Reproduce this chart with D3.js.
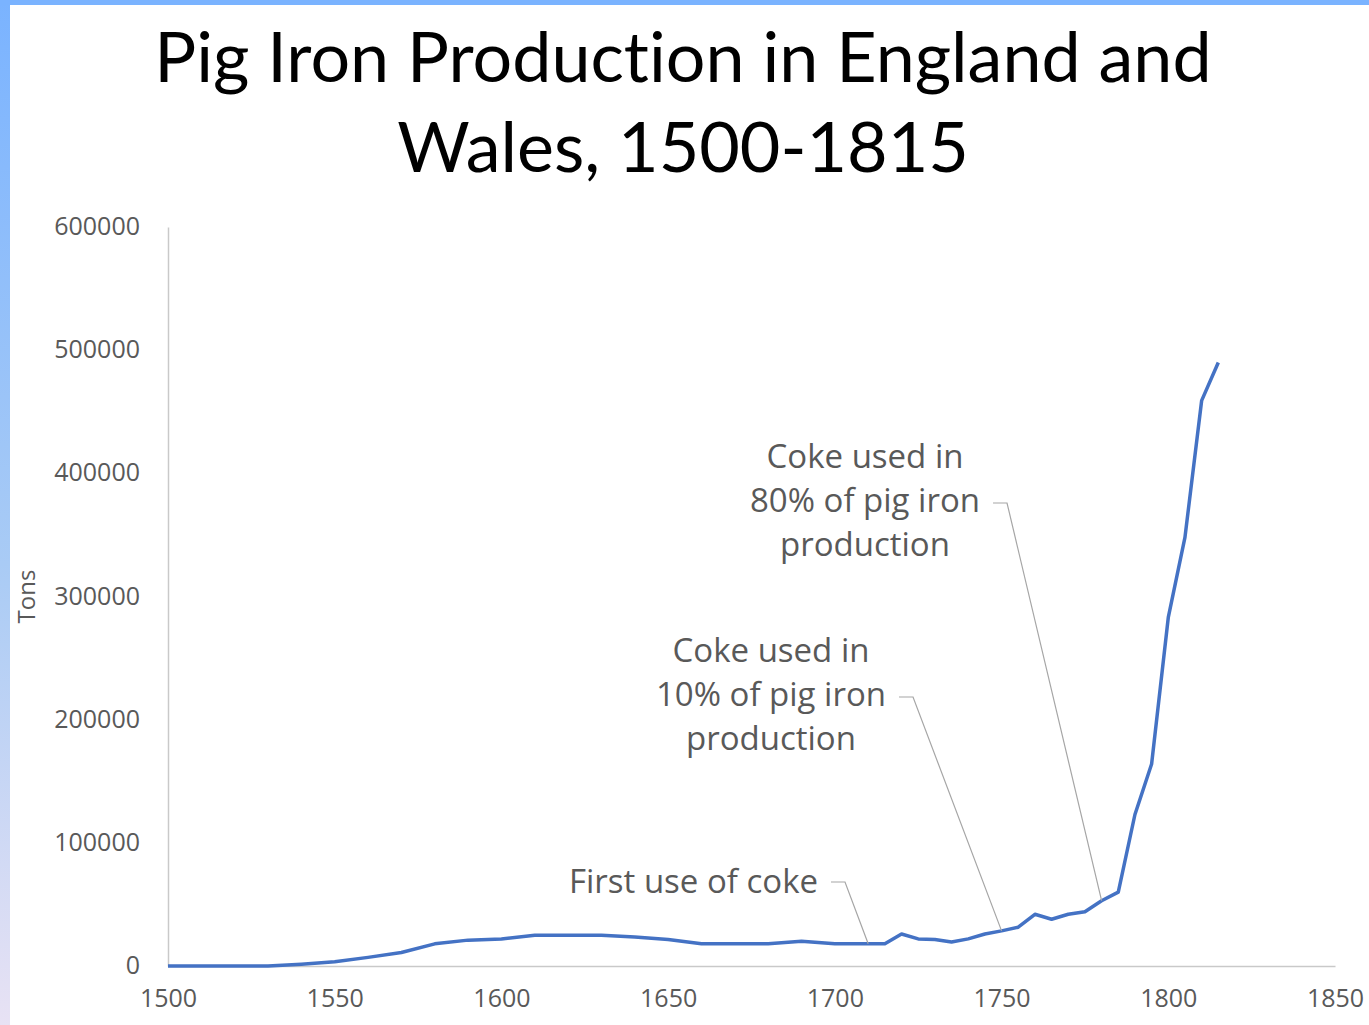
<!DOCTYPE html>
<html>
<head>
<meta charset="utf-8">
<script src="https://cdn.jsdelivr.net/npm/d3@7"></script>
<style>
  body { margin: 0; background: #fff; }
  .tick text { fill: #595959; font-family: "Open Sans", sans-serif; font-size: 25px; }
  .axis path { stroke: #c9c9c9; stroke-width: 1.5; }
  .note { fill: #595959; font-family: "Open Sans", sans-serif; font-size: 33px; }
</style>
</head>
<body>
<div id="chart"></div>
<script>
// data
const years = [1500, 1510, 1520, 1530, 1540, 1550, 1560, 1570, 1580, 1590, 1600, 1610, 1620, 1630, 1640, 1650,
  1660, 1670, 1680, 1690, 1700, 1710, 1715, 1720, 1725, 1730, 1735, 1740, 1745, 1750, 1755, 1760, 1765, 1770,
  1775, 1780, 1785, 1790, 1795, 1800, 1805, 1810, 1815];
const tons = [0, 0, 0, 0, 1500, 3500, 7000, 11000, 18000, 21000, 22000, 25000, 25000, 25000, 23500, 21500,
  18000, 18000, 18000, 20000, 18000, 18000, 18000, 26000, 22000, 21500, 19500, 22000, 26000, 28500, 31500, 42000, 38000, 42000,
  44000, 53000, 60000, 123000, 164000, 283000, 348000, 459000, 490000];
const xTicks = [1500, 1550, 1600, 1650, 1700, 1750, 1800, 1850];
const yTicks = [0, 100000, 200000, 300000, 400000, 500000, 600000];
const noteLines = [
  ["First use of coke"],
  ["Coke used in", "10% of pig iron", "production"],
  ["Coke used in", "80% of pig iron", "production"]
];
const noteYears = [1710, 1750, 1780];

(function () {
  const svg_width = 1369, svg_height = 1025;
  const margin = { top: 227, right: 34, bottom: 59, left: 168 },
    width = svg_width - margin.left - margin.right,
    height = svg_height - margin.top - margin.bottom;

  const root = d3.select("#chart").append("svg")
    .attr("width", svg_width)
    .attr("height", svg_height);

  // blue frame on the left and top
  const grad = root.append("defs").append("linearGradient")
    .attr("id", "side").attr("x1", 0).attr("y1", 0).attr("x2", 0).attr("y2", 1);
  grad.append("stop").attr("offset", "0%").attr("stop-color", "#7ab3ff");
  grad.append("stop").attr("offset", "55%").attr("stop-color", "#a9cbf5");
  grad.append("stop").attr("offset", "100%").attr("stop-color", "#e8e2f4");
  root.append("rect").attr("x", 0).attr("y", 0).attr("width", 10).attr("height", svg_height).attr("fill", "url(#side)");
  root.append("rect").attr("x", 0).attr("y", 0).attr("width", svg_width).attr("height", 5).attr("fill", "#7ab3ff");

  // title
  const title = root.append("text")
    .attr("text-anchor", "middle")
    .attr("font-family", "Lato, sans-serif")
    .attr("font-size", 70)
    .style("font-variant-ligatures", "none")
    .attr("fill", "#000");
  title.append("tspan").attr("x", 683).attr("y", 82).text("Pig Iron Production in England and");
  title.append("tspan").attr("x", 683).attr("y", 172).text("Wales, 1500-1815");

  const svg = root.append("g")
    .attr("transform", "translate(" + margin.left + "," + margin.top + ")");

  const x = d3.scaleLinear().domain([1500, 1850]).range([0, width]);
  const y = d3.scaleLinear().domain([0, 600000]).range([height, 0]);

  svg.append("g")
    .attr("class", "axis")
    .call(d3.axisLeft(y).tickValues(yTicks).tickSize(0).tickPadding(28).tickFormat(d3.format("d")))
    .selectAll("text").attr("dy", "0.3em");

  svg.append("g")
    .attr("class", "axis")
    .attr("transform", "translate(0," + height + ")")
    .call(d3.axisBottom(x).tickValues(xTicks).tickSize(0).tickPadding(23).tickFormat(d3.format("d")));

  // y label
  svg.append("text")
    .attr("transform", "translate(-133," + y(300000) + ") rotate(-90)")
    .attr("text-anchor", "middle")
    .attr("fill", "#595959")
    .attr("font-family", "Open Sans, sans-serif")
    .attr("font-size", 24)
    .text("Tons");

  // series
  const data = years.map((yr, i) => ({ year: yr, value: tons[i] }));
  svg.append("path")
    .datum(data)
    .attr("fill", "none")
    .attr("stroke", "#4472c4")
    .attr("stroke-width", 3.5)
    .attr("stroke-linejoin", "round")
    .attr("d", d3.line().x(d => x(d.year)).y(d => y(d.value)));

  // annotations: label anchor (page px) + leader to the data point
  const notePos = [
    { x: 818, y: 893, anchor: "end", tickY: 882 },
    { x: 771, y: 662, anchor: "middle", tickY: 697 },
    { x: 865, y: 468, anchor: "middle", tickY: 503 }
  ];
  const lineGap = 44;
  const notes = root.append("g");
  noteLines.forEach((lines, i) => {
    const p = notePos[i];
    const t = notes.append("text").attr("class", "note").attr("text-anchor", p.anchor);
    lines.forEach((s, j) => t.append("tspan").attr("x", p.x).attr("y", p.y + j * lineGap).text(s));
    // leader starts right of the widest line
    const tw = d3.max(t.selectAll("tspan").nodes(), n => n.getComputedTextLength());
    const right = p.anchor === "end" ? p.x : p.x + tw / 2;
    const sx = right + 13;
    const k = years.indexOf(noteYears[i]);
    const ex = margin.left + x(noteYears[i]);
    const ey = margin.top + y(tons[k]);
    notes.append("path")
      .attr("fill", "none")
      .attr("stroke", "#a6a6a6")
      .attr("stroke-width", 1.2)
      .attr("d", "M" + sx + "," + p.tickY + "H" + (sx + 14) + "L" + ex + "," + ey);
  });
})();
</script>
</body>
</html>
